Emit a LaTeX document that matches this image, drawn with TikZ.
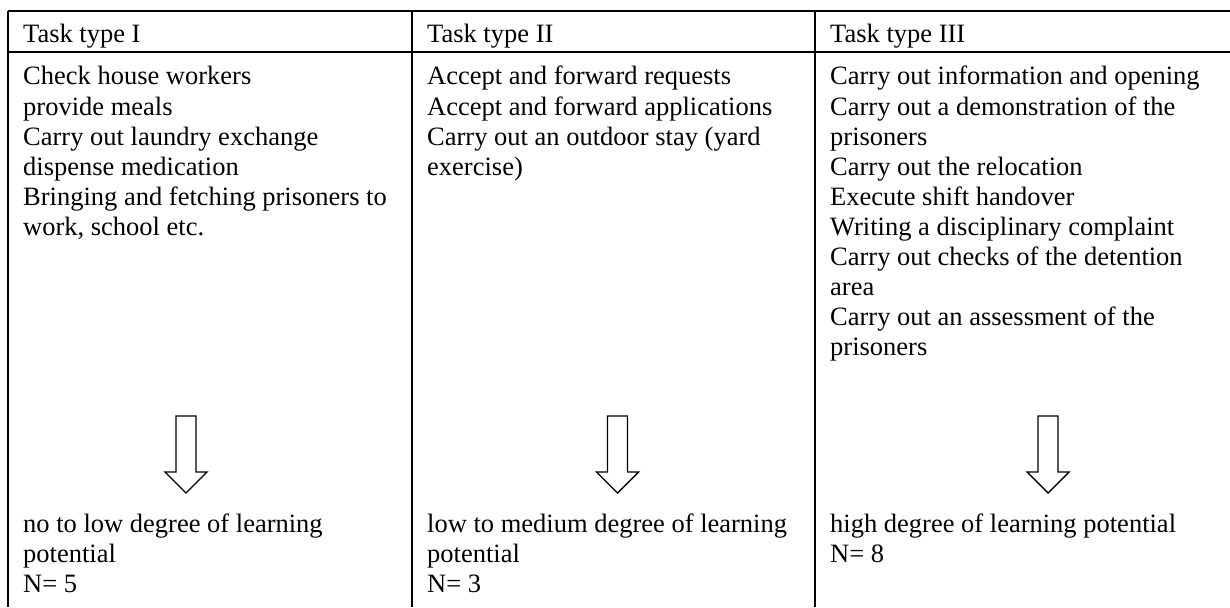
\documentclass[tikz,border=0pt]{standalone}
\usepackage{fontspec}
\setmainfont{Liberation Serif}
\begin{document}
\begin{tikzpicture}[x=1pt,y=-1pt,
  rule/.style={line width=1.6pt},
  txt/.style={anchor=base west,inner sep=0pt,font=\fontsize{26.5}{30.5}\selectfont},
  downarrow/.style={line width=1.4pt,fill=white,line join=miter}]
\useasboundingbox (0,0) rectangle (1230,607);
% table rules
\coordinate (tl) at (8,11);
\coordinate (tr) at (1230,11);
\coordinate (hl) at (8,52);
\coordinate (hr) at (1230,52);
\draw[rule] (tl) -- (tr);
\draw[rule] (hl) -- (hr);
\draw[rule] (8,11) -- (8,607);
\draw[rule] (412,11) -- (412,607);
\draw[rule] (815,11) -- (815,607);
% headers
\node[txt] (h1) at (23,42.5) {Task type I};
\node[txt] (h2) at (427,42.5) {Task type II};
\node[txt] (h3) at (830,42.5) {Task type III};
% column 1
\node[txt] (a1) at (23,85) {Check house workers};
\node[txt] (a2) at (23,115) {provide meals};
\node[txt] (a3) at (23,145) {Carry out laundry exchange};
\node[txt] (a4) at (23,175) {dispense medication};
\node[txt] (a5) at (23,205) {Bringing and fetching prisoners to};
\node[txt] (a6) at (23,235) {work, school etc.};
% column 2
\node[txt] (b1) at (427,85) {Accept and forward requests};
\node[txt] (b2) at (427,115) {Accept and forward applications};
\node[txt] (b3) at (427,145) {Carry out an outdoor stay (yard};
\node[txt] (b4) at (427,175) {exercise)};
% column 3
\node[txt] (c1) at (830,85) {Carry out information and opening};
\node[txt] (c2) at (830,115) {Carry out a demonstration of the};
\node[txt] (c3) at (830,145) {prisoners};
\node[txt] (c4) at (830,175) {Carry out the relocation};
\node[txt] (c5) at (830,205) {Execute shift handover};
\node[txt] (c6) at (830,235) {Writing a disciplinary complaint};
\node[txt] (c7) at (830,265) {Carry out checks of the detention};
\node[txt] (c8) at (830,295) {area};
\node[txt] (c9) at (830,325) {Carry out an assessment of the};
\node[txt] (c10) at (830,355) {prisoners};
% arrows
\foreach \cx/\nm in {186/ar1,617.5/ar2,1048/ar3}{
  \draw[downarrow] (\cx-10,416) -- (\cx+10,416) -- (\cx+10,472) -- (\cx+21,472)
    -- (\cx,493) -- (\cx-21,472) -- (\cx-10,472) -- cycle;
}
% results
\node[txt] (r1a) at (23,532) {no to low degree of learning};
\node[txt] (r1b) at (23,562) {potential};
\node[txt] (r1c) at (23,592) {N= 5};
\node[txt] (r2a) at (427,532) {low to medium degree of learning};
\node[txt] (r2b) at (427,562) {potential};
\node[txt] (r2c) at (427,592) {N= 3};
\node[txt] (r3a) at (830,532) {high degree of learning potential};
\node[txt] (r3b) at (830,562) {N= 8};
\end{tikzpicture}
\end{document}
